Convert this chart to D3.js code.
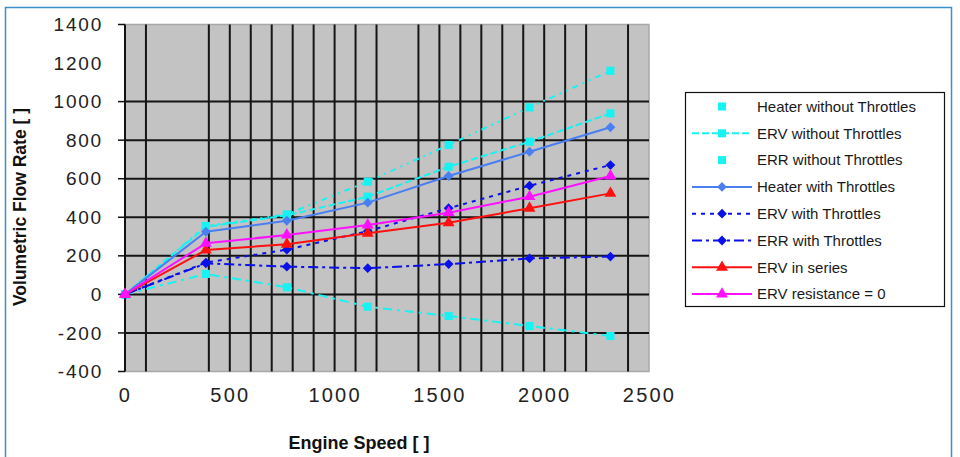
<!DOCTYPE html>
<html>
<head>
<meta charset="utf-8">
<script src="https://cdn.jsdelivr.net/npm/d3@7"></script>
<style>
  body { margin: 0; background: #fff; }
  text { font-family: "Liberation Sans", Arial, sans-serif; }
</style>
</head>
<body>
<div id="chart"></div>
<script>
// x values (engine speed) shared by every series
const speeds = [0, 386, 772, 1158, 1544, 1930, 2316];

// flow rate per series
const heaterNoThrottles = [0, 355, 415, 585, 775, 970, 1160];
const ervNoThrottles = [0, 350, 410, 507, 662, 792, 939];
const errNoThrottles = [0, 106, 37, -64, -112, -164, -216];
const heaterThrottles = [0, 325, 382, 476, 614, 740, 867];
const ervThrottles = [0, 165, 232, 328, 447, 564, 671];
const errThrottles = [0, 161, 144, 136, 157, 187, 196];
const ervSeries = [0, 230, 260, 317, 372, 447, 524];
const ervResistance0 = [0, 265, 308, 360, 424, 507, 614];

const seriesNames = [
    'Heater without Throttles', 'ERV without Throttles', 'ERR without Throttles',
    'Heater with Throttles', 'ERV with Throttles', 'ERR with Throttles',
    'ERV in series', 'ERV resistance = 0'
];

// axis ticks / gridlines (the scan lost a few gridlines, keep them out)
const yTickLabels = [1400, 1200, 1000, 800, 600, 400, 200, 0, -200, -400];
const yTickMarks = [1400, 1000, 800, 600, 400, 200, 0, -200, -400];
const yGridVals = [1000, 800, 600, 400, 200, -200];
const xTickLabels = [0, 500, 1000, 1500, 2000, 2500];
const xGridVals = [100, 400, 500, 600, 700, 800, 900, 1000, 1100, 1200, 1400, 1500,
    1600, 1700, 1800, 1900, 2000, 2100, 2200, 2400];

// styling per series (same order as seriesNames)
const seriesStyles = [
    { color: '#19f2f2', dash: '6,5,2,5,2,5', marker: 'square', legendLine: false },
    { color: '#19f2f2', dash: '7,3', marker: 'square', legendLine: true },
    { color: '#19f2f2', dash: '9,5,3,5', marker: 'square', legendLine: false },
    { color: '#4a7ff2', dash: null, marker: 'diamond', legendLine: true },
    { color: '#0a10e8', dash: '4,5', marker: 'diamond', legendLine: true },
    { color: '#0a10e8', dash: '10,4,3,4', marker: 'diamond', legendLine: true },
    { color: '#ff1010', dash: null, marker: 'triangle', legendLine: true },
    { color: '#ff10ff', dash: null, marker: 'triangle', legendLine: true }
];

const allValues = [heaterNoThrottles, ervNoThrottles, errNoThrottles, heaterThrottles,
    ervThrottles, errThrottles, ervSeries, ervResistance0];

const series = seriesNames.map((name, i) => ({
    name: name,
    style: seriesStyles[i],
    points: speeds.map((s, j) => ({ x: s, y: allValues[i][j] }))
}));

const width = 960, height = 457;
const plot = { left: 125, right: 649, top: 24.5, bottom: 371.5 };
const plainNum = d => String(d);

const svg = d3.select('#chart')
    .append('svg')
    .attr('width', width)
    .attr('height', height);

// outer chart frame
svg.append('rect')
    .attr('x', 5.5).attr('y', 7.5)
    .attr('width', 946).attr('height', 470)
    .attr('fill', 'none')
    .attr('stroke', '#3d8fcc')
    .attr('stroke-width', 1.5);

const x = d3.scaleLinear().domain([0, 2500]).range([plot.left, plot.right]);
const y = d3.scaleLinear().domain([-400, 1400]).range([plot.bottom, plot.top]);

// plot background
svg.append('rect')
    .attr('x', plot.left).attr('y', plot.top)
    .attr('width', plot.right - plot.left)
    .attr('height', plot.bottom - plot.top)
    .attr('fill', '#c3c3c3')
    .attr('stroke', '#a8a8a8')
    .attr('stroke-width', 1.5);

// gridlines
svg.append('g').selectAll('line')
    .data(xGridVals)
    .join('line')
    .attr('x1', d => x(d)).attr('x2', d => x(d))
    .attr('y1', plot.top).attr('y2', plot.bottom)
    .attr('stroke', '#151515')
    .attr('stroke-width', 2);

svg.append('g').selectAll('line')
    .data(yGridVals)
    .join('line')
    .attr('x1', plot.left).attr('x2', plot.right)
    .attr('y1', d => y(d)).attr('y2', d => y(d))
    .attr('stroke', '#151515')
    .attr('stroke-width', 2);

// zero line (category axis)
svg.append('line')
    .attr('x1', plot.left).attr('x2', plot.right)
    .attr('y1', y(0)).attr('y2', y(0))
    .attr('stroke', '#111')
    .attr('stroke-width', 2);

// y axis line + tick marks
svg.append('line')
    .attr('x1', plot.left).attr('x2', plot.left)
    .attr('y1', plot.top).attr('y2', plot.bottom)
    .attr('stroke', '#111')
    .attr('stroke-width', 2);

svg.append('g').selectAll('line')
    .data(yTickMarks)
    .join('line')
    .attr('x1', plot.left - 7).attr('x2', plot.left)
    .attr('y1', d => y(d)).attr('y2', d => y(d))
    .attr('stroke', '#111')
    .attr('stroke-width', 1.5);

// y tick labels
const yAxis = svg.append('g')
    .attr('transform', `translate(${plot.left - 22},0)`)
    .call(d3.axisLeft(y).tickValues(yTickLabels).tickFormat(plainNum).tickSize(0).tickPadding(0));
yAxis.select('.domain').remove();
yAxis.selectAll('text')
    .attr('font-family', '"Liberation Sans", Arial, sans-serif')
    .attr('font-size', 19)
    .attr('letter-spacing', 1.8)
    .attr('fill', '#222');

// x tick labels
const xAxis = svg.append('g')
    .attr('transform', `translate(0,${plot.bottom + 16})`)
    .call(d3.axisBottom(x).tickValues(xTickLabels).tickFormat(plainNum).tickSize(0).tickPadding(0));
xAxis.select('.domain').remove();
xAxis.selectAll('text')
    .attr('font-family', '"Liberation Sans", Arial, sans-serif')
    .attr('font-size', 20)
    .attr('letter-spacing', 2.2)
    .attr('fill', '#222');

// axis titles
svg.append('text')
    .attr('transform', 'translate(26,207) rotate(-90)')
    .attr('text-anchor', 'middle')
    .attr('font-size', 17.5)
    .attr('font-weight', 'bold')
    .attr('fill', '#111')
    .text('Volumetric Flow Rate [ ]');

svg.append('text')
    .attr('x', 359).attr('y', 449)
    .attr('text-anchor', 'middle')
    .attr('font-size', 18)
    .attr('font-weight', 'bold')
    .attr('fill', '#111')
    .text('Engine Speed [ ]');

// marker shapes
const markerPath = {
    square: d3.symbol().type(d3.symbolSquare).size(66)(),
    diamond: d3.symbol().type(d3.symbolSquare).size(48)(),
    triangle: d3.symbol().type(d3.symbolTriangle).size(62)()
};
const markerRotate = { square: 0, diamond: 45, triangle: 0 };

const line = d3.line().x(d => x(d.x)).y(d => y(d.y));

const seriesG = svg.append('g').selectAll('g')
    .data(series)
    .join('g');

seriesG.append('path')
    .attr('d', d => line(d.points))
    .attr('fill', 'none')
    .attr('stroke', d => d.style.color)
    .attr('stroke-width', 2)
    .attr('stroke-dasharray', d => d.style.dash);

seriesG.selectAll('path.marker')
    .data(d => d.points.map(p => ({ p: p, style: d.style })))
    .join('path')
    .attr('class', 'marker')
    .attr('d', d => markerPath[d.style.marker])
    .attr('transform', d => `translate(${x(d.p.x)},${y(d.p.y)}) rotate(${markerRotate[d.style.marker]})`)
    .attr('fill', d => d.style.color);

// legend
const legend = svg.append('g');
legend.append('rect')
    .attr('x', 685.5).attr('y', 92.5)
    .attr('width', 259).attr('height', 214)
    .attr('fill', '#fff')
    .attr('stroke', '#111')
    .attr('stroke-width', 1.2);

const legendItems = legend.selectAll('g.item')
    .data(series)
    .join('g')
    .attr('class', 'item')
    .attr('transform', (d, i) => `translate(0,${106.5 + i * 26.8})`);

legendItems.filter(d => d.style.legendLine)
    .append('line')
    .attr('x1', 692).attr('x2', 752)
    .attr('stroke', d => d.style.color)
    .attr('stroke-width', 2)
    .attr('stroke-dasharray', d => d.style.dash);

legendItems.append('path')
    .attr('d', d => markerPath[d.style.marker])
    .attr('transform', d => `translate(722,0) rotate(${markerRotate[d.style.marker]})`)
    .attr('fill', d => d.style.color);

legendItems.append('text')
    .attr('x', 757)
    .attr('dy', '0.35em')
    .attr('font-size', 15)
    .attr('fill', '#1a1a1a')
    .text(d => d.name);
</script>
</body>
</html>
